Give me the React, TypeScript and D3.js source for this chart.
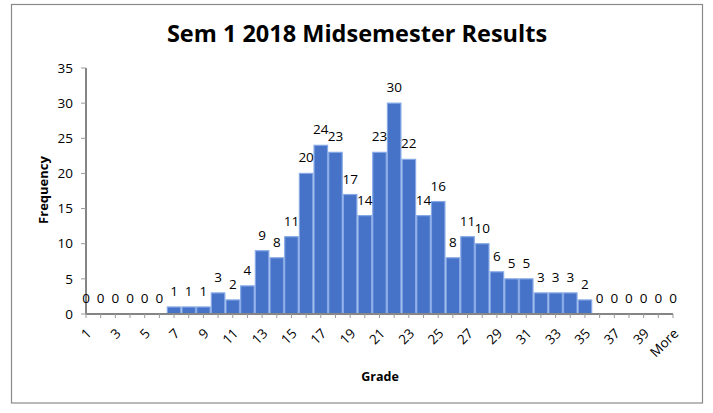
import React from "react";
import * as d3 from "d3";

const categories: string[] = [
  "1","2","3","4","5","6","7","8","9","10","11","12","13","14","15","16","17","18","19","20",
  "21","22","23","24","25","26","27","28","29","30","31","32","33","34","35","36","37","38","39","40","More",
];
const frequencies: number[] = [
  0,0,0,0,0,0,1,1,1,3,2,4,9,8,11,20,24,23,17,14,
  23,30,22,14,16,8,11,10,6,5,5,3,3,3,2,0,0,0,0,0,0,
];
const yTicks: number[] = [0,5,10,15,20,25,30,35];
const title = "Sem 1 2018 Midsemester Results";
const xTitle = "Grade";
const yTitle = "Frequency";

export default function App() {
  const W = 713, H = 413;
  const left = 86, right = 673, top = 68, bottom = 314;
  const x = d3.scalePoint<string>().domain(categories).range([left, right]).padding(0);
  const y = d3.scaleLinear().domain([0, 35]).range([bottom, top]);
  const font = "'Open Sans', 'Noto Sans', sans-serif";
  const bw = x.step();
  return (
    <svg width={W} height={H} style={{ position: "absolute", left: 0, top: 0, background: "#fff" }} fontFamily={font}>
      <rect x={11.5} y={4.5} width={691} height={398.5} fill="#fff" stroke="#8a8a8a" strokeWidth={1.2} />
      <text x={357} y={42} textAnchor="middle" fontSize={23.5} fontWeight="bold" fill="#000">{title}</text>
      {/* bars */}
      {categories.map((c, i) => {
        const v = frequencies[i];
        if (v <= 0) return null;
        return (
          <rect key={"b" + c} x={x(c)! - bw / 2 + 0.6} y={y(v)} width={bw - 1.2} height={y(0) - y(v)}
            fill="#4672c8" stroke="#86a9e6" strokeWidth={1.2} />
        );
      })}
      {/* y axis */}
      <line x1={left} x2={left} y1={top} y2={bottom} stroke="#858585" strokeWidth={2} />
      {yTicks.map(t => (
        <g key={"y" + t}>
          <line x1={left - 5} x2={left} y1={y(t)} y2={y(t)} stroke="#999" strokeWidth={1} />
          <text x={left - 13} y={y(t)} dy="0.35em" textAnchor="end" fontSize={13.5} fill="#000">{t}</text>
        </g>
      ))}
      {/* x axis */}
      <line x1={left} x2={right} y1={bottom} y2={bottom} stroke="#858585" strokeWidth={2} />
      {categories.map((c) => (
        <line key={"t" + c} x1={x(c)!} x2={x(c)!} y1={bottom} y2={bottom + 4} stroke="#999" strokeWidth={1} />
      ))}
      {categories.map((c, i) => {
        if (i % 2 !== 0) return null;
        const cx = x(c)! + 3;
        const cy = bottom + 17;
        return (
          <text key={"xl" + c} x={cx} y={cy} textAnchor="end" fontSize={13.5} fill="#000"
            transform={`rotate(-45 ${cx} ${cy})`} dy="0.35em">{c}</text>
        );
      })}
      {/* value labels */}
      {categories.map((c, i) => {
        const v = frequencies[i];
        return (
          <text key={"v" + c} x={x(c)!} y={y(v) - 11} textAnchor="middle" fontSize={13.5} fill="#000">{v}</text>
        );
      })}
      <text x={380} y={381} textAnchor="middle" fontSize={12.5} fontWeight="bold" fill="#000">{xTitle}</text>
      <text transform={`translate(48 ${(top + bottom) / 2 - 1}) rotate(-90)`} textAnchor="middle" fontSize={13} fontWeight="bold" fill="#000">{yTitle}</text>
    </svg>
  );
}
